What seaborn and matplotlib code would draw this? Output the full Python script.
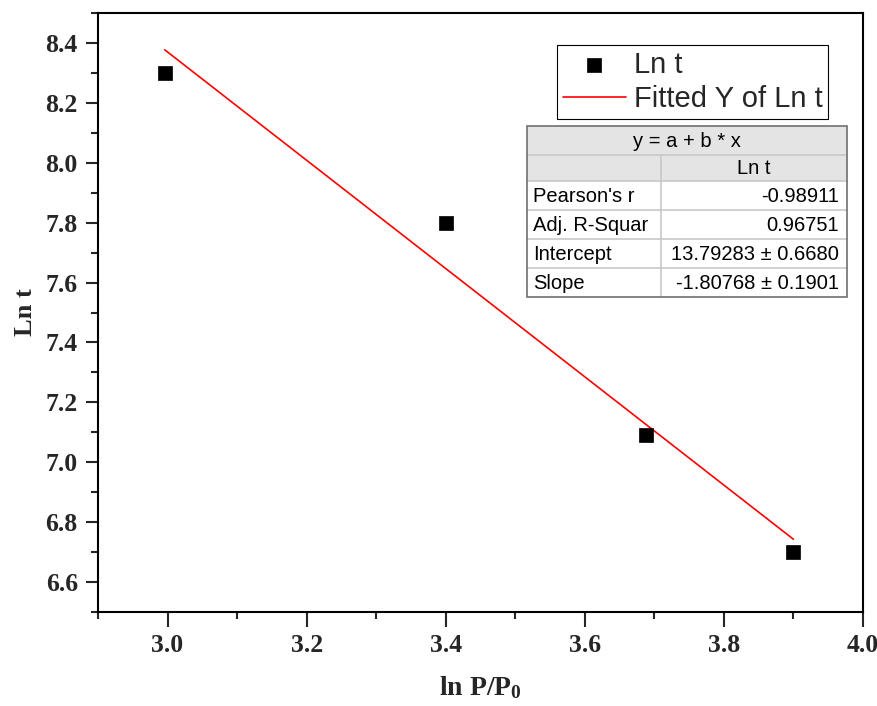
import numpy as np
import pandas as pd
import matplotlib
matplotlib.use("Agg")
import matplotlib.pyplot as plt
from matplotlib.patches import Rectangle
from matplotlib.ticker import MultipleLocator
import seaborn as sns

# ---- data ----
x_vals = [2.996, 3.401, 3.688, 3.9]
y_vals = [8.30, 7.80, 7.09, 6.70]
fit_intercept = 13.79283
fit_slope = -1.80768
series_name = "Ln t"
fit_name = "Fitted Y of Ln t"
table_title = "y = a + b * x"
table_col = "Ln t"
table_rows = ["Pearson's r", "Adj. R-Squar", "Intercept", "Slope"]
table_vals = ["-0.98911", "0.96751", "13.79283 \u00b1 0.6680", "-1.80768 \u00b1 0.1901"]
x_ticks = [3.0, 3.2, 3.4, 3.6, 3.8, 4.0]
y_ticks = [6.6, 6.8, 7.0, 7.2, 7.4, 7.6, 7.8, 8.0, 8.2, 8.4]

df = pd.DataFrame({"x": x_vals, "y": y_vals})
df_fit = pd.DataFrame({"x": x_vals,
                       "y": [fit_intercept + fit_slope * v for v in x_vals]})

sns.set_style("ticks")
plt.rcParams["font.family"] = ["Liberation Serif", "DejaVu Serif"]
plt.rcParams["mathtext.fontset"] = "custom"
plt.rcParams["mathtext.rm"] = "Liberation Serif:bold"
plt.rcParams["mathtext.bf"] = "Liberation Serif:bold"
plt.rcParams["mathtext.default"] = "bf"

W, H = 878, 706
fig = plt.figure(figsize=(W / 100, H / 100), dpi=100)
ax = fig.add_axes([98 / W, 1 - 612 / H, (863 - 98) / W, (612 - 13) / H])

sns.lineplot(data=df_fit, x="x", y="y", ax=ax, color="#ff0000", lw=1.2,
             label=fit_name, zorder=2)
sns.scatterplot(data=df, x="x", y="y", ax=ax, marker="s", s=90, color="black",
                edgecolor="black", linewidth=0.5, label=series_name, zorder=3)

ax.set_xlim(2.9, 4.0)
ax.set_ylim(6.5, 8.5)
ax.set_xticks(x_ticks)
ax.set_yticks(y_ticks)
ax.xaxis.set_minor_locator(MultipleLocator(0.1))
ax.yaxis.set_minor_locator(MultipleLocator(0.1))
ax.set_xticklabels([f"{v:.1f}" for v in x_ticks])
ax.set_yticklabels([f"{v:.1f}" for v in y_ticks])
ax.tick_params(axis="both", which="major", direction="out", width=1.5, labelsize=18.5)
ax.tick_params(axis="y", which="major", length=8.5, pad=6)
ax.tick_params(axis="x", which="major", length=11, pad=5)
ax.tick_params(axis="both", which="minor", direction="out", length=5, width=1.5)
ax.tick_params(top=False, right=False, which="both")
for lab in ax.get_xticklabels() + ax.get_yticklabels():
    lab.set_fontweight("bold")
for sp in ax.spines.values():
    sp.set_visible(True)
    sp.set_linewidth(1.5)
    sp.set_color("black")

ax.set_xlabel("ln P/P$_0$", fontsize=20, fontweight="bold", labelpad=12)
ax.set_ylabel("Ln t", fontsize=19, fontweight="bold", labelpad=6)

# legend
handles, labels = ax.get_legend_handles_labels()
order = [labels.index(series_name), labels.index(fit_name)]
leg = ax.legend([handles[i] for i in order], [labels[i] for i in order],
                loc="upper left", bbox_to_anchor=(557 / W, 1 - 45 / H),
                bbox_transform=fig.transFigure, borderaxespad=0,
                prop={"family": "Liberation Sans", "size": 21},
                frameon=True, fancybox=False, framealpha=1, edgecolor="black",
                handlelength=2.15, handletextpad=0.28, labelspacing=0.22,
                borderpad=0.2)
leg.get_frame().set_linewidth(0.8)

# stats table (figure pixel coords)
def fx(px):
    return px / W

def fy(py):
    return 1 - py / H

x0, x1, x2 = 527, 661, 847
ys = [126, 155, 181, 210, 239, 268, 297]
grid_c = "#c8c8c8"
head_c = "#e4e4e4"
tprops = dict(family="Liberation Sans", fontsize=14.5, color="black",
              transform=fig.transFigure, va="center", zorder=10)

fig.patches.append(Rectangle((fx(x0), fy(ys[2])), fx(x2) - fx(x0), fy(ys[0]) - fy(ys[2]),
                             transform=fig.transFigure, facecolor=head_c,
                             edgecolor="none", zorder=5))
fig.patches.append(Rectangle((fx(x0), fy(ys[-1])), fx(x2) - fx(x0), fy(ys[2]) - fy(ys[-1]),
                             transform=fig.transFigure, facecolor="white",
                             edgecolor="none", zorder=5))
for yy in ys[1:-1]:
    fig.add_artist(plt.Line2D([fx(x0), fx(x2)], [fy(yy), fy(yy)], color=grid_c,
                              lw=1.2, transform=fig.transFigure, zorder=6))
fig.add_artist(plt.Line2D([fx(x1), fx(x1)], [fy(ys[1]), fy(ys[-1])], color=grid_c,
                          lw=1.2, transform=fig.transFigure, zorder=6))
fig.patches.append(Rectangle((fx(x0), fy(ys[-1])), fx(x2) - fx(x0), fy(ys[0]) - fy(ys[-1]),
                             transform=fig.transFigure, facecolor="none",
                             edgecolor="#707070", lw=1.2, zorder=7))

fig.text((fx(x0) + fx(x2)) / 2, fy((ys[0] + ys[1]) / 2 + 1), table_title, ha="center", **tprops)
fig.text((fx(x1) + fx(x2)) / 2, fy((ys[1] + ys[2]) / 2 + 1), table_col, ha="center", **tprops)
for i, (r, v) in enumerate(zip(table_rows, table_vals)):
    yc = fy((ys[2 + i] + ys[3 + i]) / 2 + 1)
    fig.text(fx(x0) + 6 / W, yc, r, ha="left", **tprops)
    fig.text(fx(x2) - 8 / W, yc, v, ha="right", **tprops)

fig.savefig("out.png", dpi=100)
